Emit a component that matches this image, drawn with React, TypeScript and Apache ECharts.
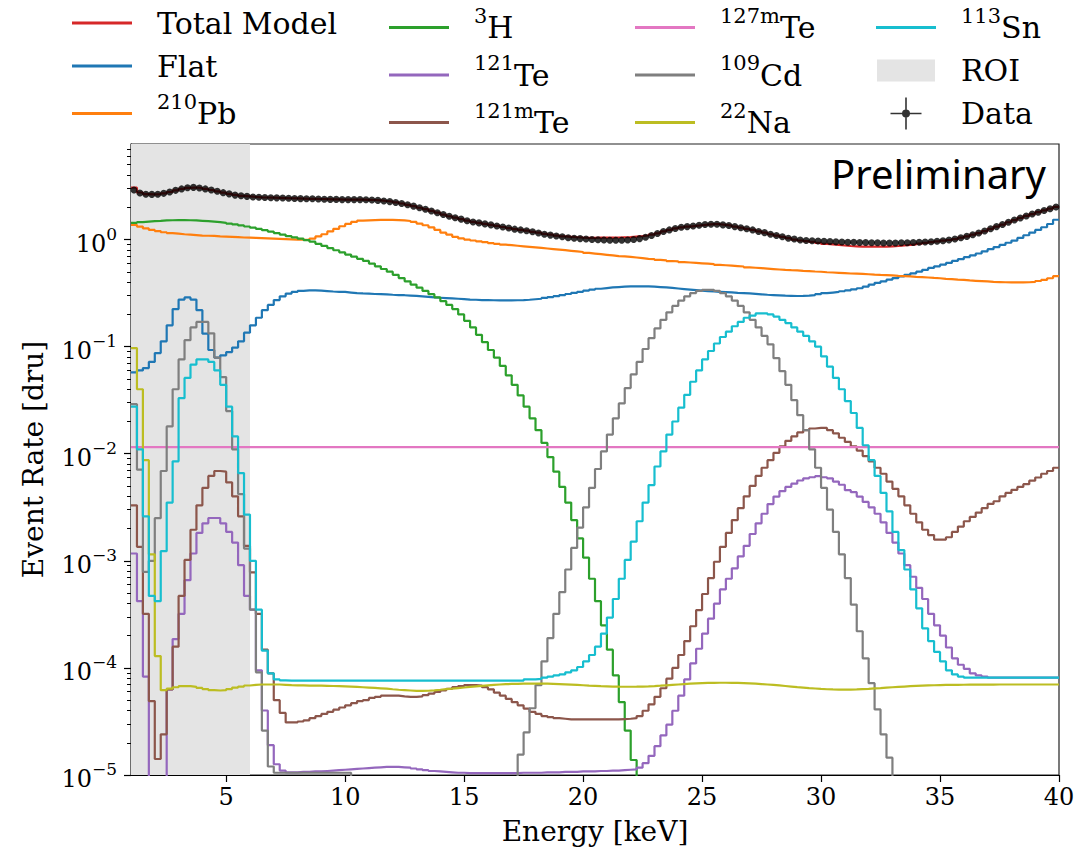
import React, { useEffect, useRef } from "react";
import * as echarts from "echarts";

// ---------------- binning / axes ----------------
const E_START = 1; // keV, first bin edge
const E_END = 40; // keV, last bin edge
const BIN_WIDTH = 0.25; // keV
const FLOOR = 1e-8; // below the axis minimum (draws the drop-off edges)
const ROI_RANGE = [1, 6];
const X_TICKS = [5, 10, 15, 20, 25, 30, 35, 40];
const Y_MAJOR = [1e-5, 1e-4, 1e-3, 1e-2, 1e-1, 1];
const Y_MINOR = [
  2e-5, 3e-5, 4e-5, 5e-5, 6e-5, 7e-5, 8e-5, 9e-5,
  2e-4, 3e-4, 4e-4, 5e-4, 6e-4, 7e-4, 8e-4, 9e-4,
  2e-3, 3e-3, 4e-3, 5e-3, 6e-3, 7e-3, 8e-3, 9e-3,
  2e-2, 3e-2, 4e-2, 5e-2, 6e-2, 7e-2, 8e-2, 9e-2,
  0.2, 0.3, 0.4, 0.5, 0.6, 0.7, 0.8, 0.9,
  2, 3, 4, 5, 6, 7,
];

// ---------------- values (dru), one per 0.25 keV bin, 4 bins per row = 1 keV ----------------
// Data points (bin centres), 1.0 .. 40 keV
const dataRate = [
  2.9, 2.72, 2.65, 2.64, 2.65, 2.7, 2.78, 2.88, 2.97, 3.05, 3.07, 3.03,
  2.97, 2.9, 2.82, 2.74, 2.67, 2.6, 2.56, 2.53, 2.5, 2.48, 2.47, 2.46,
  2.45, 2.44, 2.43, 2.42, 2.41, 2.4, 2.4, 2.39, 2.38, 2.37, 2.37, 2.36,
  2.36, 2.36, 2.36, 2.35, 2.34, 2.32, 2.29, 2.26, 2.22, 2.17, 2.11, 2.05,
  1.98, 1.92, 1.85, 1.78, 1.71, 1.65, 1.6, 1.55, 1.5, 1.46, 1.43, 1.4,
  1.37, 1.34, 1.31, 1.28, 1.25, 1.23, 1.21, 1.18, 1.15, 1.12, 1.1, 1.08,
  1.06, 1.04, 1.03, 1.02, 1.01, 1.0, 0.995, 0.99, 0.985, 0.985, 0.985, 0.99,
  1.0, 1.02, 1.05, 1.09, 1.14, 1.19, 1.23, 1.27, 1.3, 1.32, 1.34, 1.36,
  1.38, 1.39, 1.39, 1.37, 1.35, 1.32, 1.29, 1.26, 1.23, 1.19, 1.16, 1.12,
  1.09, 1.06, 1.03, 1.01, 0.99, 0.98, 0.975, 0.97, 0.965, 0.96, 0.955, 0.95,
  0.945, 0.942, 0.94, 0.937, 0.935, 0.932, 0.93, 0.93, 0.93, 0.932, 0.935, 0.94,
  0.945, 0.95, 0.955, 0.965, 0.975, 0.99, 1.01, 1.04, 1.07, 1.11, 1.15, 1.2,
  1.26, 1.32, 1.38, 1.45, 1.52, 1.59, 1.66, 1.73, 1.8, 1.87, 1.94, 2.01,
];

// Total model, from 1.0 keV
const totalModel = [
  3.05, 2.75, 2.66, 2.64, 2.65, 2.7, 2.78, 2.88, 2.97, 3.04, 3.06, 3.03,
  2.97, 2.9, 2.82, 2.74, 2.67, 2.61, 2.56, 2.53, 2.5, 2.48, 2.47, 2.46,
  2.45, 2.44, 2.43, 2.42, 2.41, 2.4, 2.4, 2.39, 2.38, 2.37, 2.37, 2.36,
  2.36, 2.36, 2.36, 2.35, 2.34, 2.32, 2.29, 2.26, 2.22, 2.17, 2.11, 2.05,
  1.98, 1.92, 1.85, 1.78, 1.71, 1.65, 1.6, 1.55, 1.5, 1.46, 1.43, 1.4,
  1.37, 1.34, 1.31, 1.28, 1.25, 1.23, 1.21, 1.18, 1.16, 1.13, 1.11, 1.09,
  1.07, 1.06, 1.05, 1.04, 1.035, 1.035, 1.04, 1.04, 1.04, 1.045, 1.05, 1.055,
  1.065, 1.075, 1.09, 1.11, 1.14, 1.19, 1.23, 1.27, 1.3, 1.32, 1.34, 1.36,
  1.38, 1.39, 1.39, 1.37, 1.35, 1.32, 1.29, 1.26, 1.23, 1.19, 1.16, 1.12,
  1.09, 1.06, 1.03, 1.0, 0.98, 0.965, 0.95, 0.93, 0.91, 0.9, 0.89, 0.88,
  0.87, 0.865, 0.86, 0.86, 0.86, 0.86, 0.86, 0.865, 0.87, 0.88, 0.89, 0.9,
  0.915, 0.93, 0.945, 0.96, 0.975, 0.99, 1.01, 1.04, 1.07, 1.11, 1.15, 1.2,
  1.26, 1.32, 1.38, 1.45, 1.52, 1.59, 1.66, 1.73, 1.8, 1.87, 1.94, 2.02,
];

// Flat, from 1.0 keV
const flat = [
  0.0575, 0.06, 0.063, 0.072, 0.087, 0.112, 0.158, 0.224, 0.275, 0.288, 0.275, 0.219,
  0.132, 0.093, 0.079, 0.083, 0.089, 0.098, 0.112, 0.135, 0.158, 0.186, 0.219, 0.245,
  0.272, 0.295, 0.313, 0.324, 0.331, 0.335, 0.335, 0.333, 0.33, 0.327, 0.325, 0.324,
  0.32, 0.316, 0.314, 0.313, 0.31, 0.309, 0.308, 0.305, 0.303, 0.302, 0.3, 0.298,
  0.295, 0.292, 0.288, 0.286, 0.284, 0.282, 0.28, 0.278, 0.275, 0.274, 0.272, 0.272,
  0.271, 0.27, 0.27, 0.27, 0.271, 0.272, 0.274, 0.277, 0.28, 0.285, 0.29, 0.296,
  0.303, 0.31, 0.318, 0.325, 0.333, 0.34, 0.347, 0.352, 0.357, 0.36, 0.363, 0.365,
  0.366, 0.366, 0.365, 0.363, 0.36, 0.357, 0.353, 0.349, 0.345, 0.341, 0.337, 0.333,
  0.33, 0.327, 0.325, 0.323, 0.321, 0.318, 0.316, 0.314, 0.311, 0.308, 0.305, 0.303,
  0.301, 0.299, 0.298, 0.297, 0.298, 0.3, 0.303, 0.309, 0.316, 0.32, 0.324, 0.329,
  0.335, 0.343, 0.351, 0.363, 0.38, 0.394, 0.407, 0.422, 0.437, 0.452, 0.468, 0.484,
  0.501, 0.521, 0.543, 0.562, 0.582, 0.605, 0.631, 0.656, 0.684, 0.711, 0.741, 0.776,
  0.813, 0.851, 0.891, 0.933, 0.977, 1.035, 1.096, 1.161, 1.23, 1.303, 1.396, 1.531,
];

// 210Pb, from 1.0 keV
const pb210 = [
  1.37, 1.32, 1.27, 1.23, 1.2, 1.17, 1.15, 1.135, 1.12, 1.11, 1.1, 1.09,
  1.085, 1.08, 1.07, 1.065, 1.06, 1.055, 1.045, 1.04, 1.035, 1.03, 1.025, 1.02,
  1.015, 1.01, 1.005, 1.0, 0.995, 0.995, 1.02, 1.07, 1.12, 1.19, 1.26, 1.33,
  1.4, 1.46, 1.5, 1.51, 1.52, 1.525, 1.525, 1.525, 1.52, 1.51, 1.49, 1.46,
  1.41, 1.36, 1.3, 1.23, 1.16, 1.11, 1.06, 1.025, 1.0, 0.98, 0.96, 0.945,
  0.925, 0.91, 0.895, 0.885, 0.875, 0.865, 0.855, 0.845, 0.835, 0.825, 0.815, 0.805,
  0.795, 0.785, 0.775, 0.765, 0.75, 0.74, 0.73, 0.72, 0.71, 0.7, 0.695, 0.69,
  0.68, 0.67, 0.66, 0.655, 0.645, 0.64, 0.63, 0.625, 0.615, 0.61, 0.605, 0.6,
  0.595, 0.59, 0.58, 0.575, 0.57, 0.565, 0.56, 0.55, 0.545, 0.54, 0.535, 0.53,
  0.525, 0.52, 0.517, 0.515, 0.51, 0.507, 0.503, 0.5, 0.495, 0.492, 0.489, 0.486,
  0.482, 0.48, 0.477, 0.474, 0.47, 0.467, 0.465, 0.462, 0.458, 0.455, 0.452, 0.448,
  0.445, 0.442, 0.438, 0.435, 0.43, 0.427, 0.423, 0.42, 0.415, 0.412, 0.409, 0.406,
  0.403, 0.401, 0.399, 0.398, 0.398, 0.398, 0.399, 0.402, 0.41, 0.42, 0.435, 0.455,
];

// 3H, from 1.0 keV to 22.25 keV
const h3 = [
  1.429, 1.455, 1.472, 1.486, 1.496, 1.507, 1.514, 1.517, 1.517, 1.514, 1.507, 1.496,
  1.483, 1.469, 1.452, 1.432, 1.409, 1.384, 1.355, 1.324, 1.291, 1.256, 1.222, 1.186,
  1.148, 1.112, 1.076, 1.047, 1.019, 0.989, 0.955, 0.912, 0.871, 0.832, 0.794, 0.759,
  0.724, 0.692, 0.661, 0.631, 0.596, 0.562, 0.531, 0.501, 0.468, 0.437, 0.407, 0.38,
  0.355, 0.331, 0.309, 0.288, 0.266, 0.245, 0.224, 0.2, 0.174, 0.151, 0.129, 0.11,
  0.093, 0.079, 0.066, 0.054, 0.044, 0.035, 0.0275, 0.0214, 0.0166, 0.0126, 0.0093, 0.0068,
  0.0049, 0.0035, 0.0024, 0.00162, 0.00107, 0.00068, 0.00042, 0.00025,
  0.000148, 0.000085, 0.000048, 0.000026, 0.0000138,
];

// 121Te: low segment from 1.0 keV, main segment from 2.5 keV
const te121Low = [0.00117, 0.00042, 0.000083];
const te121 = [
  0.000063, 0.000186,
  0.00032, 0.00066, 0.00117, 0.00182, 0.00224, 0.00251, 0.00251, 0.00224,
  0.00186, 0.00148, 0.00091, 0.00047, 0.00035, 0.000095, 0.00004, 0.000019,
  0.0000126, 0.000011, 0.0000106, 0.0000106, 0.0000107, 0.0000107, 0.0000108, 0.0000108,
  0.0000109, 0.000011, 0.0000111, 0.0000112, 0.0000113, 0.0000114, 0.0000115, 0.0000116,
  0.0000117, 0.0000118, 0.0000119, 0.0000119, 0.0000119, 0.0000118, 0.0000117, 0.0000115,
  0.0000113, 0.0000111, 0.0000109, 0.0000108, 0.0000107, 0.0000106, 0.0000105, 0.0000105,
  0.0000104, 0.0000104, 0.0000104, 0.0000104, 0.0000104, 0.0000104, 0.0000104, 0.0000104,
  0.0000104, 0.0000105, 0.0000105, 0.0000105, 0.0000105, 0.0000106, 0.0000106, 0.0000106,
  0.0000107, 0.0000107, 0.0000107, 0.0000108, 0.0000108, 0.0000108, 0.0000109, 0.0000109,
  0.000011, 0.000011, 0.0000111, 0.0000112, 0.0000113, 0.0000117, 0.0000129, 0.0000151,
  0.0000186, 0.0000234, 0.0000295, 0.0000398, 0.000055, 0.000078, 0.00011, 0.000151,
  0.000209, 0.000288, 0.000398, 0.00054, 0.00068, 0.00085, 0.0011, 0.00138,
  0.00178, 0.00224, 0.00275, 0.00339, 0.00398, 0.00447, 0.0049, 0.00525,
  0.00562, 0.00589, 0.00603, 0.00617, 0.00603, 0.00589, 0.0055, 0.00513,
  0.00457, 0.00437, 0.00398, 0.00355, 0.00316, 0.00275, 0.00229, 0.00182,
  0.00148, 0.00117, 0.00091, 0.00071, 0.00056, 0.00044, 0.00032, 0.00025,
  0.0002, 0.000155, 0.000123, 0.000107, 0.000098, 0.000089, 0.000085, 0.000083,
  0.000081, 0.000081, 0.000081, 0.000081, 0.000081, 0.000081, 0.000081, 0.000081,
  0.000081, 0.000081, 0.000081, 0.000081,
];

// 121mTe, from 1.0 keV
const te121m = [
  0.0033, 0.00135, 0.00032, 0.000049, 0.0000141, 0.000024, 0.000063, 0.000158,
  0.00047, 0.00102, 0.00195, 0.0033, 0.0048, 0.0062, 0.0069, 0.0068,
  0.0054, 0.004, 0.0026, 0.00138, 0.00078, 0.00032, 0.000148, 0.000089,
  0.00005, 0.000038, 0.000031, 0.000031, 0.0000316, 0.0000324, 0.0000339, 0.0000355,
  0.0000372, 0.0000389, 0.0000407, 0.0000427, 0.0000447, 0.0000468, 0.000049, 0.0000501,
  0.0000525, 0.0000537, 0.000055, 0.000055, 0.000055, 0.0000543, 0.0000537, 0.0000537,
  0.0000543, 0.0000556, 0.0000575, 0.0000596, 0.0000617, 0.0000638, 0.0000661, 0.0000676,
  0.0000692, 0.0000692, 0.0000684, 0.0000661, 0.0000631, 0.0000589, 0.000055, 0.0000513,
  0.0000479, 0.0000447, 0.0000417, 0.0000389, 0.0000372, 0.0000355, 0.0000347, 0.0000339,
  0.0000335, 0.0000331, 0.0000331, 0.0000331, 0.0000331, 0.0000331, 0.0000331, 0.0000331,
  0.0000331, 0.0000331, 0.0000333, 0.0000335, 0.0000339, 0.0000355, 0.0000398, 0.0000457,
  0.0000537, 0.0000646, 0.0000794, 0.0001, 0.000132, 0.000178, 0.000245, 0.000347,
  0.00049, 0.00069, 0.00098, 0.00135, 0.00182, 0.0024, 0.0031, 0.004,
  0.005, 0.0062, 0.0074, 0.0087, 0.0102, 0.0117, 0.0132, 0.0145,
  0.0158, 0.0166, 0.0172, 0.0174, 0.0174, 0.0166, 0.0155, 0.0141,
  0.0129, 0.0117, 0.0107, 0.0095, 0.0085, 0.0074, 0.0065, 0.0055,
  0.0047, 0.004, 0.0033, 0.00275, 0.00229, 0.00195, 0.00174, 0.00158,
  0.00158, 0.00166, 0.00186, 0.00209, 0.00234, 0.00257, 0.00282, 0.0031,
  0.0034, 0.0036, 0.004, 0.0043, 0.0046, 0.0049, 0.0052, 0.0056,
  0.006, 0.0065, 0.0069, 0.0074,
];

// 127mTe, flat over the whole range
const te127m = 0.0115;

// 109Cd: low segment from 1.0 keV (to 10.25), high segment from 17.25 keV (to 33)
const cd109Low = [
  0.029, 0.0071, 0.00079, 0.001, 0.0025, 0.0069, 0.018, 0.04,
  0.076, 0.115, 0.151, 0.17, 0.17, 0.133, 0.079, 0.052,
  0.025, 0.011, 0.0042, 0.0013, 0.00035, 0.000091, 0.000026, 0.000012,
  0.0000105, 0.0000105, 0.0000105, 0.0000105, 0.0000105, 0.0000105, 0.0000105, 0.0000105,
  0.0000105, 0.0000105, 0.0000105, 0.0000105, 0.0000105,
];
const cd109 = [
  0.0000155, 0.000025, 0.000042,
  0.000069, 0.000115, 0.00019, 0.00032, 0.00051, 0.00083, 0.00132, 0.00204,
  0.00316, 0.0048, 0.0072, 0.0105, 0.0151, 0.0214, 0.0295, 0.041,
  0.055, 0.072, 0.095, 0.12, 0.148, 0.178, 0.209, 0.24,
  0.269, 0.295, 0.316, 0.331, 0.339, 0.339, 0.331, 0.316,
  0.295, 0.269, 0.24, 0.209, 0.178, 0.151, 0.126, 0.105,
  0.078, 0.059, 0.044, 0.0316, 0.0229, 0.0166, 0.011, 0.0074,
  0.0048, 0.003, 0.00186, 0.00115, 0.00069, 0.00039, 0.00022, 0.000123,
  0.000072, 0.000041, 0.000024, 0.0000145,
];

// 22Na, from 1.0 keV
const na22 = [
  0.097, 0.04, 0.0087, 0.00115, 0.000129, 0.000062, 0.000064, 0.000066,
  0.0000675, 0.0000675, 0.0000665, 0.000065, 0.0000635, 0.000062, 0.0000615, 0.000062,
  0.0000635, 0.0000655, 0.000067, 0.0000685, 0.0000695, 0.00007, 0.00007, 0.00007,
  0.00007, 0.0000695, 0.000069, 0.0000688, 0.0000686, 0.0000684, 0.0000683, 0.0000682,
  0.000068, 0.0000678, 0.0000675, 0.0000672, 0.0000668, 0.0000664, 0.000066, 0.0000655,
  0.000065, 0.0000645, 0.000064, 0.0000632, 0.0000625, 0.000062, 0.0000615, 0.000061,
  0.000061, 0.0000612, 0.0000618, 0.0000625, 0.0000633, 0.000064, 0.0000648, 0.0000656,
  0.0000664, 0.0000672, 0.000068, 0.0000688, 0.0000694, 0.00007, 0.0000705, 0.0000708,
  0.000071, 0.0000712, 0.0000713, 0.0000713, 0.0000713, 0.0000712, 0.000071, 0.0000707,
  0.0000703, 0.0000699, 0.0000694, 0.0000689, 0.0000684, 0.000068, 0.0000676, 0.0000673,
  0.000067, 0.0000668, 0.0000667, 0.0000667, 0.0000668, 0.000067, 0.0000673, 0.0000677,
  0.0000682, 0.0000688, 0.0000694, 0.00007, 0.0000706, 0.0000712, 0.0000717, 0.0000721,
  0.0000724, 0.0000726, 0.0000727, 0.0000727, 0.0000726, 0.0000724, 0.0000721, 0.0000717,
  0.0000712, 0.0000706, 0.00007, 0.0000693, 0.0000686, 0.0000678, 0.000067, 0.0000662,
  0.0000655, 0.0000648, 0.0000642, 0.0000636, 0.0000632, 0.0000629, 0.0000627, 0.0000627,
  0.0000628, 0.000063, 0.0000634, 0.0000638, 0.0000643, 0.0000648, 0.0000654, 0.000066,
  0.0000665, 0.000067, 0.0000675, 0.0000679, 0.0000683, 0.0000686, 0.0000689, 0.0000691,
  0.0000693, 0.0000694, 0.0000695, 0.0000696, 0.0000697, 0.0000698, 0.0000698, 0.0000699,
  0.0000699, 0.00007, 0.00007, 0.00007, 0.00007, 0.00007, 0.00007, 0.00007,
  0.00007, 0.00007, 0.00007, 0.00007,
];

// 113Sn, from 1.0 keV
const sn113 = [
  0.0275, 0.011, 0.0026, 0.00047, 0.00042, 0.00123, 0.0035, 0.0085,
  0.033, 0.051, 0.068, 0.076, 0.076, 0.072, 0.06, 0.044,
  0.0275, 0.0145, 0.0066, 0.0027, 0.001, 0.00035, 0.000145, 0.000089,
  0.000078, 0.0000765, 0.000076, 0.000076, 0.000076, 0.000076, 0.000076, 0.000076,
  0.000076, 0.000076, 0.000076, 0.000076, 0.000076, 0.000076, 0.000076, 0.000076,
  0.000076, 0.000076, 0.000076, 0.000076, 0.000076, 0.000076, 0.000076, 0.000076,
  0.000076, 0.000076, 0.000076, 0.000076, 0.000076, 0.000076, 0.000076, 0.000076,
  0.000076, 0.000076, 0.000076, 0.000076, 0.000076, 0.000076, 0.000076, 0.000076,
  0.000076, 0.000076, 0.000078, 0.000078, 0.000079, 0.000081, 0.000083, 0.000085,
  0.000087, 0.000091, 0.000095, 0.000102, 0.000115, 0.000132, 0.000158, 0.000209,
  0.000295, 0.00044, 0.00068, 0.00102, 0.00151, 0.00234, 0.0035, 0.0051,
  0.0076, 0.0105, 0.0151, 0.02, 0.0269, 0.0355, 0.047, 0.06,
  0.076, 0.091, 0.107, 0.123, 0.138, 0.155, 0.17, 0.186,
  0.195, 0.204, 0.204, 0.2, 0.191, 0.178, 0.166, 0.151,
  0.138, 0.126, 0.112, 0.1, 0.081, 0.065, 0.051, 0.04,
  0.031, 0.024, 0.0174, 0.012, 0.0087, 0.0062, 0.0043, 0.0029,
  0.00186, 0.00126, 0.00083, 0.00054, 0.00036, 0.000234, 0.000178, 0.000141,
  0.000115, 0.000095, 0.000087, 0.000083, 0.000081, 0.000081, 0.000081, 0.000081,
  0.000081, 0.000081, 0.000081, 0.000081, 0.000081, 0.000081, 0.000081, 0.000081,
  0.000081, 0.000081, 0.000081, 0.000081,
];

// ---------------- helpers ----------------
type Segment = [number, number[]]; // [first bin edge in keV, values]

function stepPoints(segments: Segment[]) {
  const pts: number[][] = [];
  for (const [start, vals] of segments) {
    if (start > E_START) pts.push([start, FLOOR]);
    vals.forEach((v, i) => pts.push([start + i * BIN_WIDTH, v]));
    const end = start + vals.length * BIN_WIDTH;
    pts.push([end, vals[vals.length - 1]]);
    if (end < E_END - 1e-9) pts.push([end, FLOOR]);
  }
  return pts;
}

const SERIF = "DejaVu Serif";

const LEGEND_TEXT: Record<string, string> = {
  "Total Model": "{b|Total Model}",
  Flat: "{b|Flat}",
  "210Pb": "{s|210}{b|Pb}",
  "3H": "{s|3}{b|H}",
  "121Te": "{s|121}{b|Te}",
  "121mTe": "{s|121m}{b|Te}",
  "127mTe": "{s|127m}{b|Te}",
  "109Cd": "{s|109}{b|Cd}",
  "22Na": "{s|22}{b|Na}",
  "113Sn": "{s|113}{b|Sn}",
  ROI: "{b|ROI}",
  Data: "{b|Data}",
};

const LINE_ICON =
  "path://M0,0h0.01v0.01h-0.01z M60,36h-0.01v-0.01h0.01z M0,16.6h60v2.8h-60z";
const ROI_ICON =
  "path://M0,0h0.01v0.01h-0.01z M60,36h-0.01v-0.01h0.01z M1,7h58v22h-58z";
const DATA_ICON =
  "path://M0,0h0.01v0.01h-0.01z M60,36h-0.01v-0.01h0.01z M14.5,17.2h31v1.6h-31z M29.2,2h1.6v32h-1.6z M34,18a4,4 0 1 1 -8,0a4,4 0 1 1 8,0z";

function legendColumn(left: number, names: string[]) {
  return {
    show: true,
    orient: "vertical",
    left,
    top: 5,
    padding: 0,
    itemWidth: 60,
    itemHeight: 36,
    itemGap: 7,
    selectedMode: false,
    data: names.map((n) => ({
      name: n,
      icon: n === "ROI" ? ROI_ICON : n === "Data" ? DATA_ICON : LINE_ICON,
    })),
    formatter: (n: string) => LEGEND_TEXT[n] ?? n,
    textStyle: {
      color: "#000",
      fontFamily: SERIF,
      fontSize: 30,
      padding: [0, 0, 0, 20],
      rich: {
        b: { fontFamily: SERIF, fontSize: 30, height: 36, lineHeight: 36, color: "#000" },
        s: {
          fontFamily: SERIF,
          fontSize: 21,
          height: 12,
          lineHeight: 36,
          color: "#000",
          padding: [0, 0, 24, 0],
        },
      },
    },
  };
}

function stepSeries(name: string, color: string, segments: Segment[], z = 2) {
  return {
    name,
    type: "line",
    step: "end",
    data: stepPoints(segments),
    showSymbol: false,
    symbol: "none",
    clip: true,
    silent: true,
    z,
    itemStyle: { color },
    lineStyle: { color, width: 2.2 },
  };
}

export default function App() {
  const ref = useRef<HTMLDivElement>(null);

  useEffect(() => {
    if (!ref.current) return;
    const chart = echarts.init(ref.current, undefined, { renderer: "svg" });

    const option: any = {
      animation: false,
      backgroundColor: "#fff",
      grid: {
        left: 131,
        top: 144,
        right: 22,
        bottom: 74.5,
        show: true,
        borderColor: "#222",
        borderWidth: 1.2,
        backgroundColor: "transparent",
      },
      legend: [
        legendColumn(72, ["Total Model", "Flat", "210Pb"]),
        legendColumn(389, ["3H", "121Te", "121mTe"]),
        legendColumn(635, ["127mTe", "109Cd", "22Na"]),
        legendColumn(876, ["113Sn", "ROI", "Data"]),
      ],
      xAxis: {
        type: "value",
        min: E_START,
        max: E_END,
        name: "Energy [keV]",
        nameLocation: "middle",
        nameGap: 42,
        nameTextStyle: { fontFamily: SERIF, fontSize: 28, color: "#000" },
        axisLine: { show: true, onZero: false, lineStyle: { color: "#000", width: 1.2 } },
        axisTick: {
          show: true,
          inside: false,
          length: 7,
          customValues: X_TICKS,
          lineStyle: { color: "#000", width: 1.2 },
        },
        axisLabel: {
          customValues: X_TICKS,
          fontFamily: SERIF,
          fontSize: 24,
          color: "#000",
          margin: 10,
        },
        splitLine: { show: false },
      },
      yAxis: [
        {
          type: "log",
          logBase: 10,
          min: 1e-5,
          max: 7.8,
          name: "Event Rate [dru]",
          nameLocation: "middle",
          nameGap: 84,
          nameRotate: 90,
          nameTextStyle: { fontFamily: SERIF, fontSize: 28, color: "#000" },
          axisLine: { show: true, lineStyle: { color: "#000", width: 1.2 } },
          axisTick: {
            show: true,
            inside: false,
            length: 7,
            customValues: Y_MAJOR,
            lineStyle: { color: "#000", width: 1.2 },
          },
          axisLabel: {
            customValues: Y_MAJOR,
            margin: 14,
            color: "#000",
            formatter: (v: number) => {
              const lg = Math.log10(v);
              const e = Math.round(lg);
              if (Math.abs(lg - e) > 1e-6) return "";
              return `{b|10}{s|${e < 0 ? "\u2212" : ""}${Math.abs(e)}}`;
            },
            rich: {
              b: { fontFamily: SERIF, fontSize: 24, lineHeight: 34, color: "#000", padding: [8, 0, 0, 0] },
              s: { fontFamily: SERIF, fontSize: 17, lineHeight: 34, color: "#000", padding: [0, 0, 12, 0] },
            },
          },
          splitLine: { show: false },
        },
        {
          type: "log",
          logBase: 10,
          min: 1e-5,
          max: 7.8,
          position: "left",
          offset: 0,
          axisLine: { show: false },
          axisTick: {
            show: true,
            inside: false,
            length: 4,
            customValues: Y_MINOR,
            lineStyle: { color: "#000", width: 1 },
          },
          axisLabel: { show: false },
          splitLine: { show: false },
        },
      ],
      graphic: [
        {
          type: "text",
          x: 1046,
          y: 173,
          z: 100,
          style: {
            text: "Preliminary",
            fontFamily: "Noto Sans",
            fontSize: 40,
            fill: "#000",
            align: "right",
            verticalAlign: "middle",
            textAlign: "right",
            textVerticalAlign: "middle",
          },
        },
      ],
      series: [
        {
          name: "ROI",
          type: "line",
          data: [],
          z: 1,
          silent: true,
          itemStyle: { color: "#e4e4e4" },
          lineStyle: { color: "#e4e4e4" },
          markArea: {
            silent: true,
            itemStyle: { color: "#e4e4e4", opacity: 1 },
            data: [[{ xAxis: ROI_RANGE[0] }, { xAxis: ROI_RANGE[1] }]],
          },
        },
        stepSeries("Flat", "#1f77b4", [[E_START, flat]]),
        stepSeries("210Pb", "#ff7f0e", [[E_START, pb210]]),
        stepSeries("3H", "#2ca02c", [[E_START, h3]]),
        stepSeries("121Te", "#9467bd", [[E_START, te121Low], [2.5, te121]]),
        stepSeries("121mTe", "#8c564b", [[E_START, te121m]]),
        {
          name: "127mTe",
          type: "line",
          data: [
            [E_START, te127m],
            [E_END, te127m],
          ],
          showSymbol: false,
          symbol: "none",
          silent: true,
          z: 2,
          itemStyle: { color: "#e377c2" },
          lineStyle: { color: "#e377c2", width: 2.2 },
        },
        stepSeries("109Cd", "#7f7f7f", [[E_START, cd109Low], [17.25, cd109]]),
        stepSeries("22Na", "#bcbd22", [[E_START, na22]]),
        stepSeries("113Sn", "#17becf", [[E_START, sn113]]),
        stepSeries("Total Model", "#d62728", [[E_START, totalModel]], 3),
        {
          name: "Data",
          type: "scatter",
          data: dataRate.map((v, i) => [E_START + BIN_WIDTH * (i + 0.5), v]),
          symbol: "circle",
          symbolSize: 7,
          silent: true,
          z: 10,
          itemStyle: { color: "#000" },
        },
      ],
    };

    chart.setOption(option);
    return () => chart.dispose();
  }, []);

  return (
    <div
      ref={ref}
      style={{ position: "absolute", left: 0, top: 0, width: 1081, height: 850 }}
    />
  );
}
